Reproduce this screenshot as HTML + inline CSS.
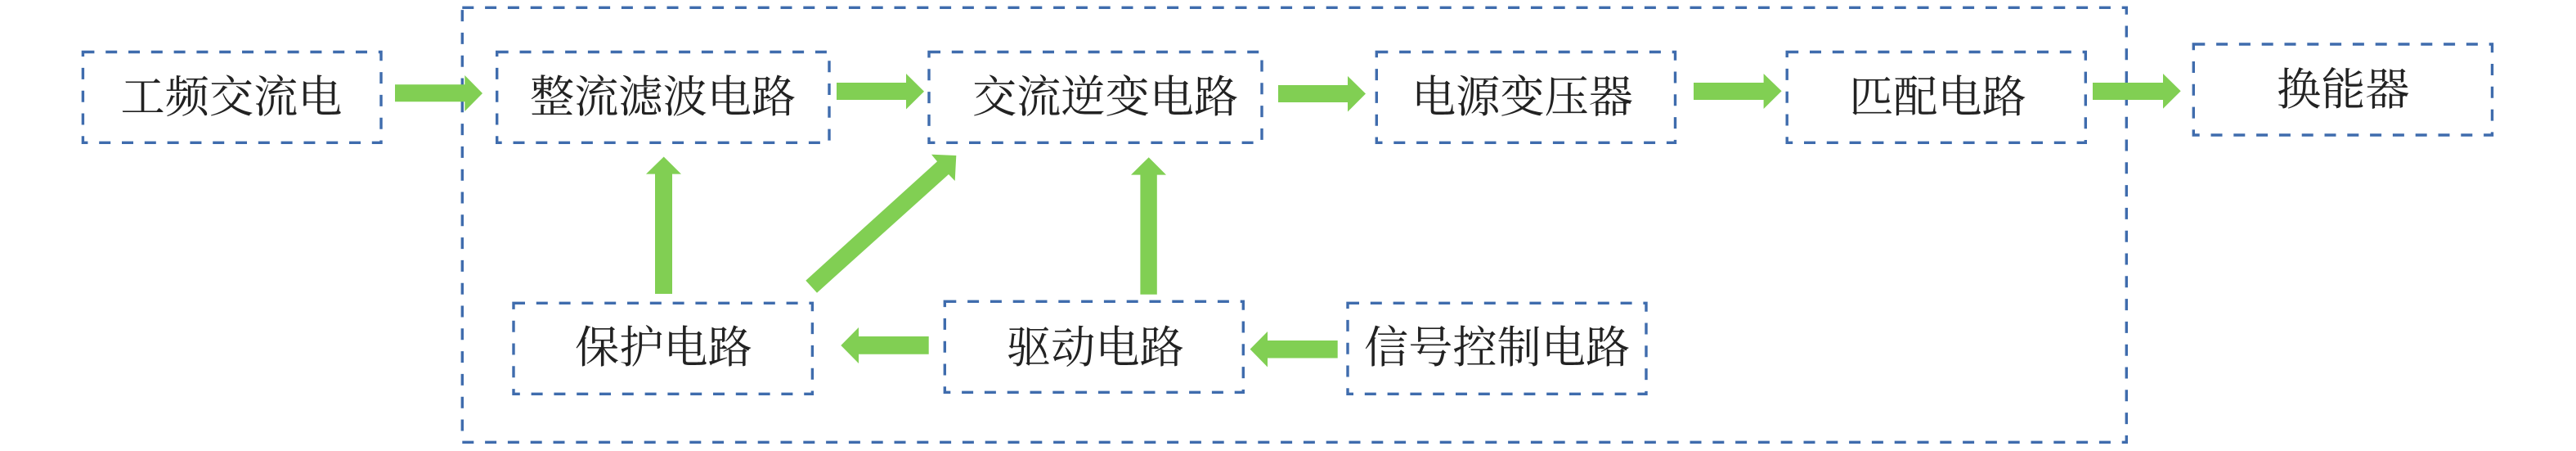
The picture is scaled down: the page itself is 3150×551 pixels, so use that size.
<!DOCTYPE html>
<html lang="zh">
<head>
<meta charset="utf-8">
<style>
html,body{margin:0;padding:0;background:#fff;width:3150px;height:551px;overflow:hidden}
svg{display:block}
rect{fill:none;stroke:#3f6cad;stroke-width:3.4;stroke-dasharray:14 13.8}
polygon{fill:#81cf53}
text{font-family:"Liberation Serif","Noto Serif CJK SC",serif;font-size:54.2px;fill:#222}
</style>
</head>
<body>
<svg width="3150" height="551" viewBox="0 0 3150 551" xmlns="http://www.w3.org/2000/svg">
<rect x="565.3" y="9.3" width="2035" height="531"/>
<rect x="101.4" y="63.5" width="364.6" height="110.8"/>
<rect x="607.7" y="63.5" width="406.3" height="110.8"/>
<rect x="1136" y="63.5" width="407" height="110.8"/>
<rect x="1683.3" y="63.5" width="365.2" height="110.8"/>
<rect x="2185.2" y="63.5" width="365.1" height="110.8"/>
<rect x="2682.3" y="54" width="365.2" height="111"/>
<rect x="628" y="370.3" width="365.4" height="111"/>
<rect x="1155.3" y="368.3" width="365" height="111"/>
<rect x="1648" y="370.3" width="365" height="111"/>

<polygon points="483,103.3 568.3,103.3 568.3,92 590,114 568.3,136 568.3,124.3 483,124.3"/>
<polygon points="1023,101 1108,101 1108,90 1130,111.7 1108,133.5 1108,122 1023,122"/>
<polygon points="1563,104 1648,104 1648,93 1670,114.5 1648,136.5 1648,125 1563,125"/>
<polygon points="2071,101 2156.6,101 2156.6,90 2178.6,111.3 2156.6,133 2156.6,122 2071,122"/>
<polygon points="2559,101 2645,101 2645,90 2666.7,111.3 2645,132.7 2645,122 2559,122"/>
<polygon points="801,359 801,212.6 790,212.6 811.7,191.5 833,212.6 822,212.6 822,359"/>
<polygon points="1394.4,359.8 1394.4,213.6 1383,213.6 1404.7,192.2 1426,213.6 1414.8,213.6 1414.8,359.8"/>
<polygon points="985.3,342.7 1146,197.3 1139,188.7 1169.3,190 1167.7,221 1160,213 999,357.7"/>
<polygon points="1135.7,411 1050,411 1050,400 1028.3,422 1050,444 1050,432.7 1135.7,432.7"/>
<polygon points="1635.7,416 1550,416 1550,405 1528.6,426.6 1550,448.5 1550,437.5 1635.7,437.5"/>

<text x="147.5" y="137">工频交流电</text>
<text x="648" y="137">整流滤波电路</text>
<text x="1189" y="137">交流逆变电路</text>
<text x="1726" y="137">电源变压器</text>
<text x="2261" y="137">匹配电路</text>
<text x="2784" y="128">换能器</text>
<text x="703" y="443">保护电路</text>
<text x="1231" y="443">驱动电路</text>
<text x="1668" y="443">信号控制电路</text>
</svg>
</body>
</html>
